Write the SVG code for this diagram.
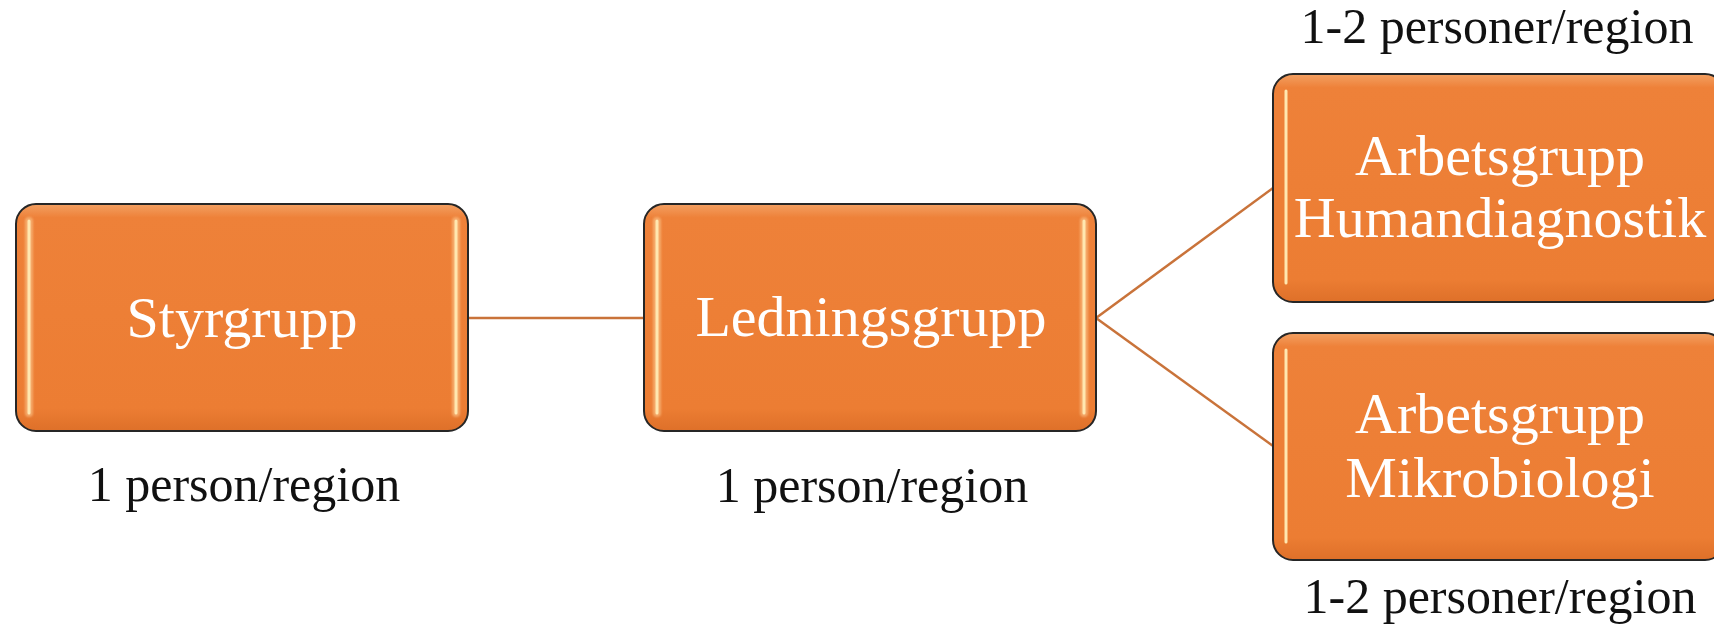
<svg xmlns="http://www.w3.org/2000/svg" width="1714" height="626" viewBox="0 0 1714 626">
  <defs>
    <linearGradient id="fillGrad" x1="0" y1="0" x2="0" y2="1">
      <stop offset="0" stop-color="#F3A062"/>
      <stop offset="0.06" stop-color="#EE8139"/>
      <stop offset="0.9" stop-color="#EC7D33"/>
      <stop offset="1" stop-color="#DE7029"/>
    </linearGradient>
    <filter id="soft" x="-2" y="-0.1" width="5" height="1.2">
      <feGaussianBlur stdDeviation="1"/>
    </filter>
  </defs>
  <style>
    .box { fill: url(#fillGrad); stroke: #262626; stroke-width: 2; }
    .glow { stroke: #F9BC80; stroke-width: 8; stroke-linecap: round; opacity: 0.7; fill: none; }
    .hl { stroke: #FFE7B0; stroke-width: 3; stroke-linecap: round; fill: none; }
    .inner { font-family: "Liberation Serif", "DejaVu Serif", serif; font-size: 58px; fill: #FFFFFF; text-anchor: middle; }
    .label { font-family: "Liberation Serif", "DejaVu Serif", serif; font-size: 50px; fill: #111111; text-anchor: middle; }
    .conn { stroke: #C9733A; stroke-width: 2.5; fill: none; }
  </style>
  <rect width="1714" height="626" fill="#FFFFFF"/>

  <g id="connectors">
    <line class="conn" x1="468" y1="318" x2="644" y2="318"/>
    <line class="conn" x1="1096" y1="318" x2="1273" y2="188"/>
    <line class="conn" x1="1096" y1="318" x2="1273" y2="446"/>
  </g>

  <g id="styrgrupp">
    <rect class="box" x="16" y="204" width="452" height="227" rx="20"/>
    <g filter="url(#soft)">
      <line class="glow" x1="29" y1="221" x2="29" y2="413"/>
      <line class="glow" x1="456" y1="221" x2="456" y2="413"/>
    </g>
    <line class="hl" x1="29" y1="221" x2="29" y2="413"/>
    <line class="hl" x1="456" y1="221" x2="456" y2="413"/>
    <text class="inner" x="242" y="337">Styrgrupp</text>
    <text class="label" x="244" y="501">1 person/region</text>
  </g>

  <g id="ledningsgrupp">
    <rect class="box" x="644" y="204" width="452" height="227" rx="20"/>
    <g filter="url(#soft)">
      <line class="glow" x1="657" y1="221" x2="657" y2="413"/>
      <line class="glow" x1="1084" y1="221" x2="1084" y2="413"/>
    </g>
    <line class="hl" x1="657" y1="221" x2="657" y2="413"/>
    <line class="hl" x1="1084" y1="221" x2="1084" y2="413"/>
    <text class="inner" x="871" y="336">Ledningsgrupp</text>
    <text class="label" x="872" y="502">1 person/region</text>
  </g>

  <g id="humandiagnostik">
    <rect class="box" x="1273" y="74" width="452" height="228" rx="20"/>
    <g filter="url(#soft)">
      <line class="glow" x1="1286" y1="91" x2="1286" y2="283"/>
    </g>
    <line class="hl" x1="1286" y1="91" x2="1286" y2="283"/>
    <text class="inner" x="1500" y="175">Arbetsgrupp</text>
    <text class="inner" x="1500" y="237">Humandiagnostik</text>
    <text class="label" x="1497" y="43">1-2 personer/region</text>
  </g>

  <g id="mikrobiologi">
    <rect class="box" x="1273" y="333" width="452" height="227" rx="20"/>
    <g filter="url(#soft)">
      <line class="glow" x1="1286" y1="350" x2="1286" y2="542"/>
    </g>
    <line class="hl" x1="1286" y1="350" x2="1286" y2="542"/>
    <text class="inner" x="1500" y="433">Arbetsgrupp</text>
    <text class="inner" x="1500" y="497">Mikrobiologi</text>
    <text class="label" x="1500" y="613">1-2 personer/region</text>
  </g>
</svg>
